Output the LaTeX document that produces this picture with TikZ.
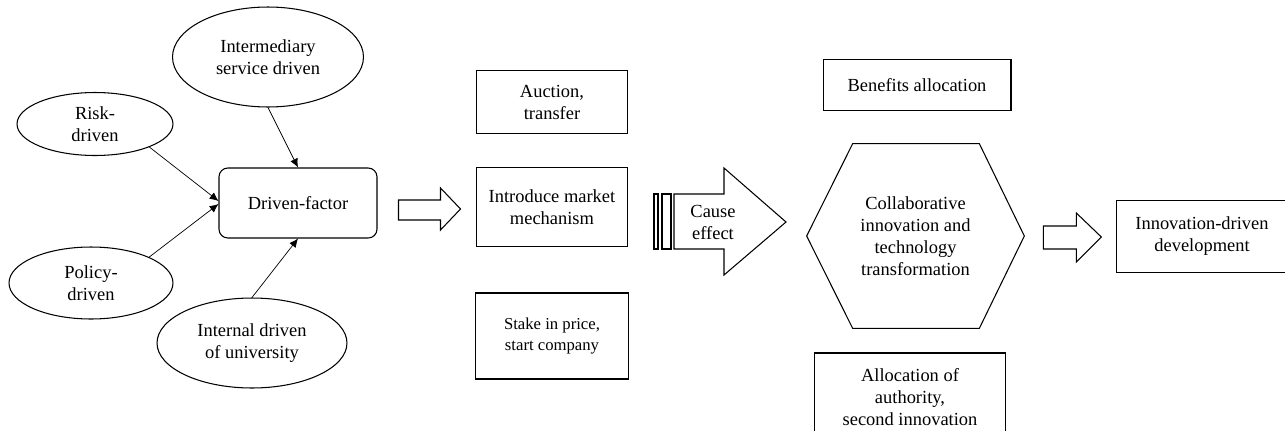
\documentclass[tikz,border=0pt]{standalone}
\usepackage{fontspec}
\setmainfont{Liberation Serif}
\usepackage{tikz}
\usetikzlibrary{arrows.meta,positioning,calc,shapes.geometric}
\tikzset{
  dfellipse/.style={draw, ellipse, inner sep=0pt, line width=0.6pt, align=center},
  dfbox/.style={draw, rectangle, inner sep=2pt, line width=0.6pt, align=center},
  dfarrow/.style={-{Latex[length=5pt,width=4.5pt]}, line width=0.4pt},
  dfblock/.style={draw, line width=0.6pt, line join=miter},
}

\begin{document}
\begin{tikzpicture}[x=0.02cm,y=-0.02cm,font=\fontsize{10.5}{12.5}\selectfont]
  \useasboundingbox (0,0) rectangle (1285,430);

  % driving factors
  \node[dfellipse, minimum width=3.82cm, minimum height=2.0cm] (interm) at (268,57)
    {Intermediary\\service driven};
  \node[dfellipse, minimum width=3.12cm, minimum height=1.26cm] (risk) at (95,124)
    {Risk-\\driven};
  \node[dfellipse, minimum width=3.28cm, minimum height=1.44cm] (policy) at (91,283)
    {Policy-\\driven};
  \node[dfellipse, minimum width=3.8cm, minimum height=1.8cm] (internal) at (252,343)
    {Internal driven\\of university};
  \node[dfbox, rounded corners=5pt, minimum width=3.16cm, minimum height=1.4cm] (factor) at (298,203)
    {Driven-factor};

  \draw[dfarrow] (interm.south) -- (factor.north);
  \draw[dfarrow] (risk.-23) -- ($(factor.west)+(0,-2)$);
  \draw[dfarrow] (policy.24) -- ($(factor.west)+(0,1)$);
  \draw[dfarrow] (internal.north) -- (factor.south);

  % market mechanism
  \node[dfbox, minimum width=3.02cm, minimum height=1.26cm] (auction) at (552,102)
    {Auction,\\transfer};
  \node[dfbox, minimum width=3.02cm, minimum height=1.58cm] (market) at (552,207)
    {Introduce market\\mechanism};
  \node[dfbox, minimum width=3.06cm, minimum height=1.72cm,
        font=\fontsize{9.5}{12}\selectfont] (stake) at (552,336)
    {Stake in price,\\start company};

  \draw[dfblock] ($(factor.east)+(21,-3)$) -- ++(42,0) -- ++(0,-12) -- ++(20,21)
    -- ++(-20,21) -- ++(0,-10) -- ++(-42,0) -- cycle;

  % cause effect
  \draw[dfblock] ($(market.east)+(26,-13)$) rectangle ++(4,55);
  \draw[dfblock] ($(market.east)+(34,-13)$) rectangle ++(9,55);
  \draw[dfblock] ($(market.east)+(46,-13)$) -- ++(50,0) -- ++(0,-26) -- ++(62,54)
    -- ++(-62,53) -- ++(0,-26) -- ++(-50,0) -- cycle;
  \node[align=center, inner sep=0pt] (cause) at (713,222) {Cause\\effect};

  % collaborative innovation
  \node[dfbox, minimum width=3.76cm, minimum height=1.02cm] (benefit) at (917,85)
    {Benefits allocation};
  \node[minimum width=4.34cm, minimum height=3.68cm, inner sep=0pt, align=center] (collab) at (915.5,236)
    {Collaborative\\innovation and\\technology\\transformation};
  \draw[dfblock] (collab.west) -- ($(collab.north west)+(46,0)$) -- ($(collab.north east)+(-45,0)$)
    -- (collab.east) -- ($(collab.south east)+(-45,0)$) -- ($(collab.south west)+(46,0)$) -- cycle;
  \node[dfbox, minimum width=3.82cm, minimum height=1.76cm] (authority) at (910,397)
    {Allocation of\\authority,\\second innovation};

  % development
  \node[dfbox, minimum width=3.44cm, minimum height=1.44cm] (develop) at (1202,236.5)
    {Innovation-driven\\development};
  \draw[dfblock] ($(collab.east)+(19,-10)$) -- ++(33,0) -- ++(0,-13) -- ++(25,24)
    -- ++(-25,25) -- ++(0,-13) -- ++(-33,0) -- cycle;
\end{tikzpicture}
\end{document}
